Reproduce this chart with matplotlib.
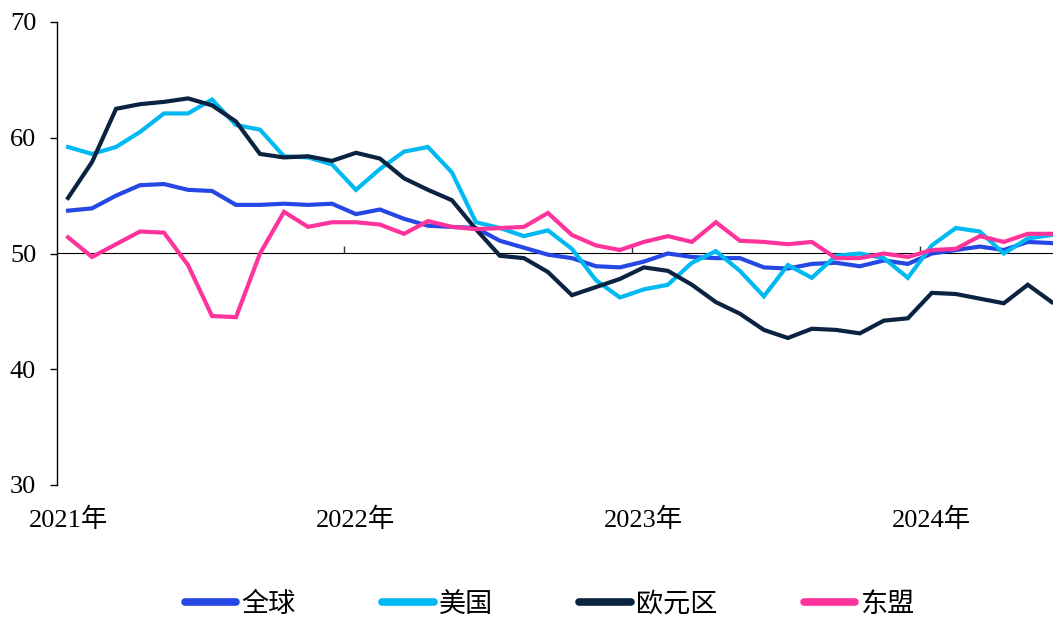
import matplotlib
matplotlib.use("Agg")
import matplotlib.pyplot as plt

plt.rcParams['font.family'] = ['Liberation Serif', 'Noto Sans CJK SC']

# monthly PMI, 2021-01 .. 2024-06
year_labels = ['2021年', '2022年', '2023年', '2024年']
series_names = ['全球', '美国', '欧元区', '东盟']

global_pmi = [53.7, 53.9, 55.0, 55.9, 56.0, 55.5, 55.4, 54.2, 54.2, 54.3, 54.2, 54.3,
              53.4, 53.8, 53.0, 52.4, 52.3, 52.2, 51.1, 50.5, 49.9, 49.6, 48.9, 48.8,
              49.3, 50.0, 49.7, 49.6, 49.6, 48.8, 48.7, 49.1, 49.2, 48.9, 49.4, 49.1,
              50.0, 50.3, 50.6, 50.3, 51.0, 50.9]
us_pmi = [59.2, 58.6, 59.2, 60.5, 62.1, 62.1, 63.3, 61.1, 60.7, 58.4, 58.3, 57.7,
          55.5, 57.3, 58.8, 59.2, 57.0, 52.7, 52.2, 51.5, 52.0, 50.4, 47.7, 46.2,
          46.9, 47.3, 49.2, 50.2, 48.5, 46.3, 49.0, 47.9, 49.8, 50.0, 49.6, 47.9,
          50.7, 52.2, 51.9, 50.0, 51.3, 51.6]
euro_pmi = [54.8, 57.9, 62.5, 62.9, 63.1, 63.4, 62.8, 61.4, 58.6, 58.3, 58.4, 58.0,
            58.7, 58.2, 56.5, 55.5, 54.6, 52.1, 49.8, 49.6, 48.4, 46.4, 47.1, 47.8,
            48.8, 48.5, 47.3, 45.8, 44.8, 43.4, 42.7, 43.5, 43.4, 43.1, 44.2, 44.4,
            46.6, 46.5, 46.1, 45.7, 47.3, 45.8]
asean_pmi = [51.4, 49.7, 50.8, 51.9, 51.8, 49.0, 44.6, 44.5, 50.0, 53.6, 52.3, 52.7,
             52.7, 52.5, 51.7, 52.8, 52.3, 52.1, 52.2, 52.3, 53.5, 51.6, 50.7, 50.3,
             51.0, 51.5, 51.0, 52.7, 51.1, 51.0, 50.8, 51.0, 49.6, 49.6, 50.0, 49.7,
             50.3, 50.4, 51.5, 51.0, 51.7, 51.7]

colors = ['#2547E3', '#00B9F2', '#0B2340', '#FF339C']

fig = plt.figure(figsize=(10.53, 6.20), dpi=100)
ax = fig.add_axes([57 / 1053, 1 - 485 / 620, 1 - 57 / 1053, 463 / 620])

x = list(range(len(global_pmi)))
for vals, name, c in zip([global_pmi, us_pmi, euro_pmi, asean_pmi], series_names, colors):
    ax.plot(x, vals, color=c, lw=3.0, label=name, solid_joinstyle='miter', zorder=3)

ax.set_ylim(30, 70)
ax.set_xlim(-0.46, 41.05)
ax.set_yticks([30, 40, 50, 60, 70])
ax.tick_params(axis='y', direction='out', length=5, width=1, pad=10, labelsize=19)
ax.set_xticks([0, 12, 24, 36])
ax.set_xticklabels(year_labels)
ax.tick_params(axis='x', length=0, pad=16, labelsize=19)

for s in ['top', 'right', 'bottom']:
    ax.spines[s].set_visible(False)
ax.spines['left'].set_linewidth(1)

# 50 line with year boundary ticks
sec = ax.secondary_xaxis(0.5)
sec.set_xticks([11.5, 23.5, 35.5])
sec.set_xticklabels(['', '', ''])
sec.tick_params(axis='x', direction='out', length=5, width=1, color='#333333')
sec.spines['bottom'].set_color('#333333')
sec.spines['bottom'].set_linewidth(1)

leg = fig.legend(loc='center', bbox_to_anchor=(0.522, 1 - 605 / 620), ncol=4,
                 frameon=False, fontsize=19.5, handlelength=1.9, handletextpad=0.18,
                 columnspacing=3.2)
for h in leg.get_lines():
    h.set_linewidth(5.5)
    h.set_solid_capstyle('round')

fig.savefig('out.png', dpi=100)
